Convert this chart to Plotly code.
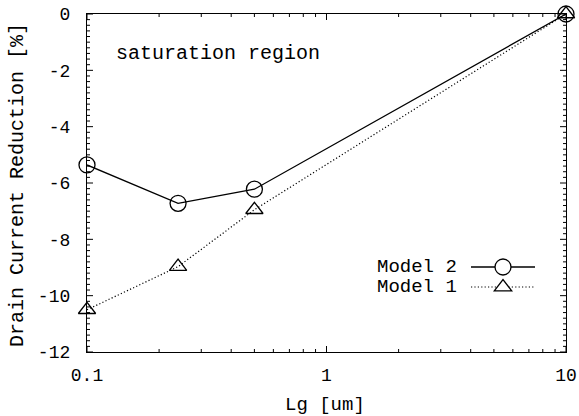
import plotly.graph_objects as go

# Data
lg_um = [0.1, 0.24, 0.5, 10]
model2 = [-5.36, -6.72, -6.22, 0.0]
model1 = [-10.5, -8.97, -6.95, 0.0]
series_names = ["Model 2", "Model 1"]
y_ticks = [0, -2, -4, -6, -8, -10, -12]
y_ticktext = ["0", "-2", "-4", "-6", "-8", "-10", "-12"]
x_ticks = [0.1, 1, 10]
x_ticktext = ["0.1", "1", "10"]
x_minor = [0.2, 0.3, 0.4, 0.5, 0.6, 0.7, 0.8, 0.9, 2, 3, 4, 5, 6, 7, 8, 9]
y_minor = [round(-12 + 0.2 * i, 1) for i in range(61) if i % 10 != 0]

FONT = "Liberation Mono"
DOT = "1.2px,2.2px"
MAJ, MIN = 6, 3
fig = go.Figure()

fig.add_trace(go.Scatter(
    x=lg_um, y=model2, mode="lines+markers", name=series_names[0],
    line=dict(color="black", width=1.3),
    marker=dict(symbol="circle-open", size=16, color="black", line=dict(width=1.3)),
    cliponaxis=False, showlegend=False))
fig.add_trace(go.Scatter(
    x=lg_um, y=model1, mode="lines+markers", name=series_names[1],
    line=dict(color="black", width=1.2, dash=DOT),
    marker=dict(symbol="triangle-up-open", size=15, color="black", line=dict(width=1.3)),
    cliponaxis=False, showlegend=False))

shapes = []
# Inward ticks on all four sides (gnuplot style)
for vals, ln in ((x_ticks, MAJ), (x_minor, MIN)):
    for v in vals:
        shapes.append(dict(type="line", xref="x", yref="paper", ysizemode="pixel", yanchor=0,
                           x0=v, x1=v, y0=0, y1=ln, line=dict(color="black", width=1)))
        shapes.append(dict(type="line", xref="x", yref="paper", ysizemode="pixel", yanchor=1,
                           x0=v, x1=v, y0=0, y1=-ln, line=dict(color="black", width=1)))
for vals, ln in ((y_ticks, MAJ), (y_minor, MIN)):
    for v in vals:
        shapes.append(dict(type="line", xref="paper", yref="y", xsizemode="pixel", xanchor=0,
                           x0=0, x1=ln, y0=v, y1=v, line=dict(color="black", width=1)))
        shapes.append(dict(type="line", xref="paper", yref="y", xsizemode="pixel", xanchor=1,
                           x0=0, x1=-ln, y0=v, y1=v, line=dict(color="black", width=1)))

# Legend (gnuplot style: label, then line sample with symbol) as paper shapes
LX0, LXC, LX1 = (471 - 87) / 479, (503 - 87) / 479, (535 - 87) / 479
LY2, LY1 = (352 - 267) / 338, (352 - 287) / 338
shapes += [
    dict(type="line", xref="paper", yref="paper", x0=LX0, x1=LX1, y0=LY2, y1=LY2,
         line=dict(color="black", width=1.3)),
    dict(type="circle", xref="paper", yref="paper", xsizemode="pixel", ysizemode="pixel",
         xanchor=LXC, yanchor=LY2, x0=-8, x1=8, y0=-8, y1=8,
         line=dict(color="black", width=1.3), fillcolor="white"),
    dict(type="line", xref="paper", yref="paper", x0=LX0, x1=LX1, y0=LY1, y1=LY1,
         line=dict(color="black", width=1.2, dash=DOT)),
    dict(type="path", xref="paper", yref="paper", xsizemode="pixel", ysizemode="pixel",
         xanchor=LXC, yanchor=LY1, path="M -8.7,-3.8 L 8.7,-3.8 L 0,7.5 Z",
         line=dict(color="black", width=1.3), fillcolor="white"),
]

fig.update_layout(
    width=579, height=416,
    margin=dict(l=87, r=13, t=14, b=64),
    paper_bgcolor="white", plot_bgcolor="white",
    font=dict(family=FONT, size=18, color="black"),
    shapes=shapes,
    xaxis=dict(
        type="log", range=[-1, 1], tickmode="array", tickvals=x_ticks, ticktext=x_ticktext,
        ticks="", showline=True, linecolor="black", linewidth=1.3, mirror=True,
        showgrid=False, zeroline=False, automargin=False, ticklabelstandoff=6,
        tickfont=dict(family=FONT, size=18),
    ),
    yaxis=dict(
        range=[-12, 0], tickmode="array", tickvals=y_ticks, ticktext=y_ticktext,
        ticks="", showline=True, linecolor="black", linewidth=1.3, mirror=True,
        showgrid=False, zeroline=False, automargin=False, ticklabelstandoff=12,
        tickfont=dict(family=FONT, size=18),
    ),
    annotations=[
        dict(text="saturation region", xref="paper", yref="paper",
             x=(114 - 87) / 479, y=(352 - 53) / 338, xanchor="left", yanchor="middle",
             showarrow=False, font=dict(family=FONT, size=20)),
        dict(text="Model 2", xref="paper", yref="paper",
             x=(459 - 87) / 479, y=LY2, xanchor="right", yanchor="middle",
             showarrow=False, font=dict(family=FONT, size=19)),
        dict(text="Model 1", xref="paper", yref="paper",
             x=(459 - 87) / 479, y=LY1, xanchor="right", yanchor="middle",
             showarrow=False, font=dict(family=FONT, size=19)),
        dict(text="Lg [um]", xref="paper", yref="paper",
             x=(325 - 87) / 479, y=(352 - 405) / 338, xanchor="center", yanchor="middle",
             showarrow=False, font=dict(family=FONT, size=19)),
        dict(text="Drain Current Reduction [%]", xref="paper", yref="paper",
             x=(17 - 87) / 479, y=(352 - 185) / 338, xanchor="center", yanchor="middle",
             textangle=-90, showarrow=False, font=dict(family=FONT, size=20)),
    ],
)

fig.write_html("out.html")
